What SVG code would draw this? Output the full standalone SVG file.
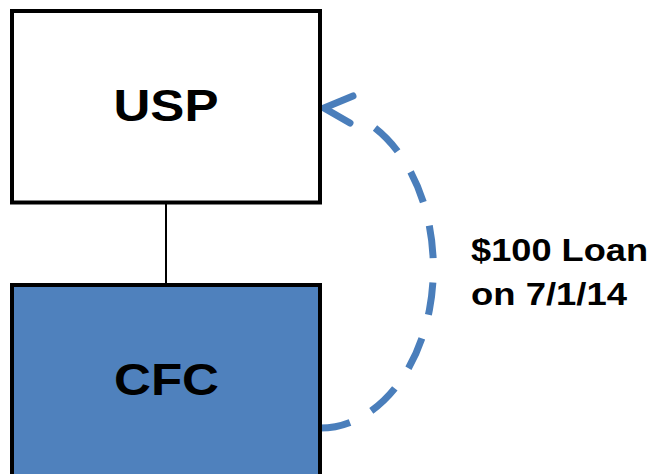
<svg xmlns="http://www.w3.org/2000/svg" width="655" height="474" viewBox="0 0 655 474">
<style>
.box{stroke:#000;stroke-width:4}
.lbl{font-family:"Liberation Sans",Arial,sans-serif;font-weight:bold;fill:#000}
.loan{fill:none;stroke:#4A7EBB;stroke-width:7}
</style>
<rect width="655" height="474" fill="#fff"/>
<g id="connectors">
<line x1="166" y1="203" x2="166" y2="285" stroke="#000" stroke-width="2"/>
<path class="loan" d="M318 428 A113 160 0 0 0 375 128" pathLength="355" stroke-dasharray="31 23"/>
<polyline class="loan" points="353,96 324,108 350,123" stroke-linecap="round" stroke-linejoin="miter"/>
</g>
<g id="usp">
<rect class="box" x="12" y="11" width="308" height="191.5" fill="#fff"/>
<text class="lbl" x="166" y="121" font-size="44" text-anchor="middle" textLength="105" lengthAdjust="spacingAndGlyphs">USP</text>
</g>
<g id="cfc">
<rect class="box" x="12" y="285" width="308" height="200" fill="#4F81BD"/>
<text class="lbl" x="166.5" y="395" font-size="45" text-anchor="middle" textLength="105" lengthAdjust="spacingAndGlyphs">CFC</text>
</g>
<g id="label">
<text class="lbl" x="471" y="261" font-size="32" textLength="177" lengthAdjust="spacingAndGlyphs">$100 Loan</text>
<text class="lbl" x="471" y="305" font-size="32" textLength="156" lengthAdjust="spacingAndGlyphs">on 7/1/14</text>
</g>
</svg>
